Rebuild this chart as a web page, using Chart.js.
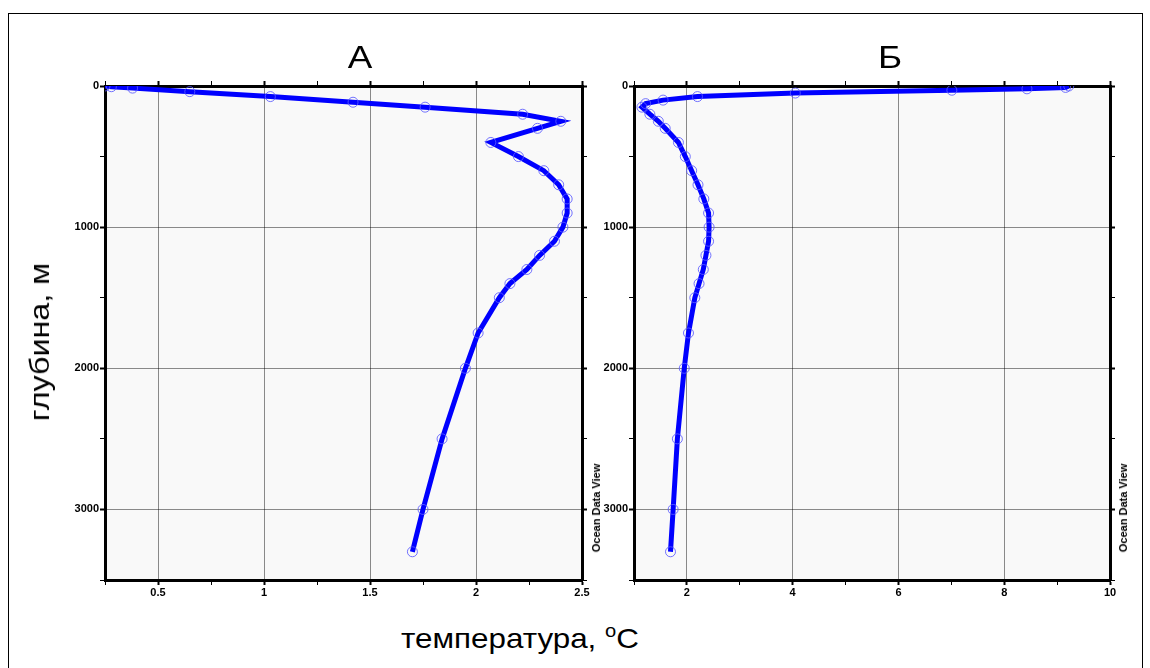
<!DOCTYPE html>
<html>
<head>
<meta charset="utf-8">
<script src="https://cdn.jsdelivr.net/npm/chart.js"></script>
<style>
    body { margin: 0; background: #fff; font-family: "Liberation Sans", Arial, sans-serif; }
    #page { position: relative; width: 1150px; height: 668px; overflow: hidden; }
    #frame { position: absolute; left: 8px; top: 13px; width: 1133px; height: 700px; border: 1px solid #000; }
    canvas { position: absolute; top: 0; }
    .txt { position: absolute; white-space: nowrap; color: #000; }
    .odv { font-weight: bold; font-size: 11px; transform: translate(-50%, -50%) rotate(-90deg); }
</style>
</head>
<body>
<div id="page">
    <div id="frame"></div>
    <canvas id="chartA" width="600" height="620" style="left:0"></canvas>
    <canvas id="chartB" width="550" height="620" style="left:600px"></canvas>
    <div class="txt" style="left:360px; top:57px; font-size:32px; transform:translate(-50%,-50%) scaleX(1.15)">А</div>
    <div class="txt" style="left:890px; top:57px; font-size:32px; transform:translate(-50%,-50%) scaleX(1.15)">Б</div>
    <div class="txt" style="left:40px; top:342px; font-size:28px; transform:translate(-50%,-50%) rotate(-90deg) scaleX(1.15)">глубина, м</div>
    <div class="txt" style="left:520px; top:638px; font-size:28px; transform:translate(-50%,-50%) scaleX(1.12)">температура, <sup style="font-size:18px">o</sup>C</div>
    <div class="txt odv" style="left:596px; top:508px">Ocean Data View</div>
    <div class="txt odv" style="left:1123px; top:508px">Ocean Data View</div>
</div>
<script>
// station A: depth (m) and temperature (°C)
const depthA = [0, 5, 15, 40, 75, 115, 150, 200, 250, 300, 400, 500, 600, 700, 800, 900, 1000,
    1100, 1200, 1300, 1400, 1500, 1750, 2000, 2500, 3000, 3300];
const tempA = [0.25, 0.28, 0.38, 0.65, 1.03, 1.42, 1.76, 2.22, 2.40, 2.29, 2.07, 2.20, 2.32, 2.39, 2.43, 2.43, 2.41,
    2.37, 2.30, 2.24, 2.16, 2.11, 2.01, 1.95, 1.84, 1.75, 1.70];

// station Б
const depthB = [0, 10, 20, 30, 50, 75, 100, 125, 150, 200, 250, 300, 400, 500, 600, 700, 800, 900, 1000,
    1100, 1200, 1300, 1400, 1500, 1750, 2000, 2500, 3000, 3300];
const tempB = [9.22, 9.16, 8.43, 7.01, 4.05, 2.20, 1.55, 1.22, 1.15, 1.30, 1.46, 1.59, 1.84, 1.97, 2.09, 2.21, 2.32, 2.41, 2.42,
    2.41, 2.36, 2.31, 2.23, 2.15, 2.03, 1.95, 1.82, 1.74, 1.69];

// axis ticks
const depthLabels = [0, 1000, 2000, 3000];
const tempLabelsA = [0.5, 1, 1.5, 2, 2.5];
const tempLabelsB = [2, 4, 6, 8, 10];

const plotBg = {
    id: 'plotBg',
    beforeDraw(chart) {
        const a = chart.chartArea;
        const c = chart.ctx;
        c.save();
        c.fillStyle = '#f9f9f9';
        c.fillRect(a.left, a.top, a.right - a.left, a.bottom - a.top);
        c.restore();
    }
};

function isLabel(list, v) {
    return list.some((l) => Math.abs(l - v) < 1e-6);
}

function makeChart(id, temps, depths, xMin, xMax, xStep, xLabels, sizes) {
    const points = temps.map((t, i) => ({ x: t, y: depths[i] }));
    const font = { family: 'Liberation Sans', size: 11, weight: 'bold' };
    const border = { display: true, color: '#000', width: 3 };

    const gridFor = (labels, onArea) => ({
        drawOnChartArea: onArea,
        drawTicks: true,
        tickLength: 5,
        color: (ctx) => isLabel(labels, ctx.tick ? ctx.tick.value : NaN) ? 'rgba(0,0,0,0.45)' : 'rgba(0,0,0,0)',
        lineWidth: 1,
        tickColor: '#000',
        tickWidth: (ctx) => isLabel(labels, ctx.tick ? ctx.tick.value : NaN) ? 2 : 1,
    });

    return new Chart(document.getElementById(id), {
        type: 'scatter',
        data: {
            datasets: [{
                data: points,
                showLine: true,
                borderColor: '#0000ff',
                borderWidth: 5,
                tension: 0,
                pointRadius: 5,
                pointBorderWidth: 1,
                pointBorderColor: 'rgba(90,90,255,0.85)',
                pointBackgroundColor: 'rgba(0,0,0,0)',
            }]
        },
        options: {
            responsive: false,
            animation: false,
            layout: { padding: 0, autoPadding: false },
            plugins: { legend: { display: false }, tooltip: { enabled: false } },
            scales: {
                x: {
                    type: 'linear', position: 'bottom', min: xMin, max: xMax,
                    ticks: {
                        stepSize: xStep, autoSkip: false, maxRotation: 0, color: '#000', font: font, padding: 1,
                        callback: (v) => isLabel(xLabels, v) ? String(v) : ''
                    },
                    grid: gridFor(xLabels, true),
                    border: border,
                    afterFit: (s) => { s.height = sizes.bottom; }
                },
                x2: {
                    type: 'linear', position: 'top', min: xMin, max: xMax,
                    ticks: { stepSize: xStep, display: false, autoSkip: false },
                    grid: gridFor(xLabels, false),
                    border: border,
                    afterFit: (s) => { s.height = sizes.top; }
                },
                y: {
                    type: 'linear', position: 'left', min: 0, max: 3500, reverse: true,
                    ticks: {
                        stepSize: 500, autoSkip: false, color: '#000', font: font, padding: 1,
                        callback: (v) => isLabel(depthLabels, v) ? String(v) : ''
                    },
                    grid: gridFor(depthLabels, true),
                    border: border,
                    afterFit: (s) => { s.width = sizes.left; }
                },
                y2: {
                    type: 'linear', position: 'right', min: 0, max: 3500, reverse: true,
                    ticks: { stepSize: 500, display: false, autoSkip: false },
                    grid: gridFor(depthLabels, false),
                    border: border,
                    afterFit: (s) => { s.width = sizes.right; }
                }
            }
        },
        plugins: [plotBg]
    });
}

makeChart('chartA', tempA, depthA, 0.25, 2.5, 0.25, tempLabelsA, { left: 105, right: 18, top: 86, bottom: 40 });
makeChart('chartB', tempB, depthB, 1, 10, 1, tempLabelsB, { left: 34, right: 40, top: 86, bottom: 40 });
</script>
</body>
</html>
